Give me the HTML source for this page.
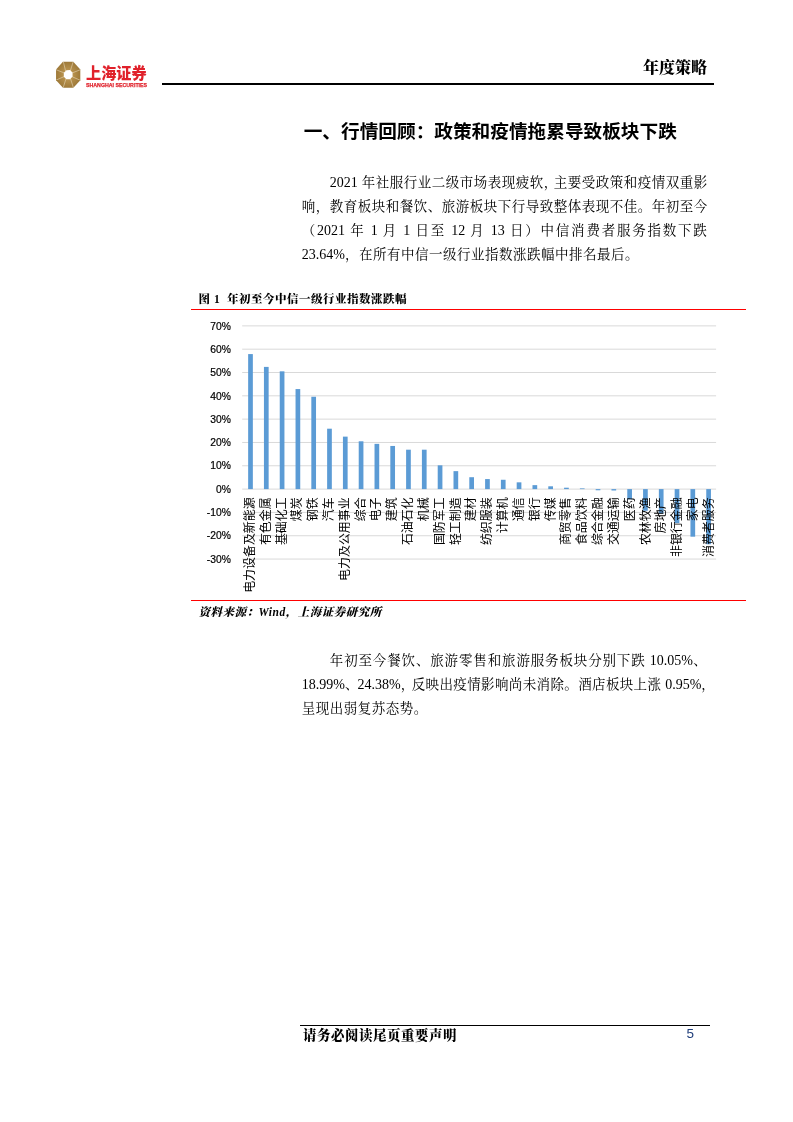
<!DOCTYPE html>
<html lang="zh-CN">
<head>
<meta charset="utf-8">
<title>年度策略</title>
<style>
html,body{margin:0;padding:0;background:#fff;}
body{width:793px;height:1122px;position:relative;overflow:hidden;font-family:"Liberation Serif","Noto Serif CJK SC",serif;color:#000;}
.abs{position:absolute;white-space:nowrap;}
.chart{position:absolute;left:0;top:0;}
.kai{font-family:"Liberation Serif","Noto Serif CJK SC",serif;}
.hei{font-family:"Liberation Sans","Noto Sans CJK SC",sans-serif;}
.hline{position:absolute;background:#000;}
.rline{position:absolute;background:#f00;}
.para{position:absolute;left:301.8px;width:405.5px;font-size:13.5px;letter-spacing:0.5px;line-height:24px;}
.para .n{font-size:14px;letter-spacing:0;}
.para .l{display:block;height:24px;white-space:nowrap;text-align:justify;text-align-last:justify;}
.para .l.last{text-align-last:left;}
.para .ind{padding-left:28px;}
.cp{display:inline-block;width:10px;overflow:visible;letter-spacing:0;text-align:left;text-align-last:left;}
.cp.w{width:12.5px;}
.cp.m{width:11px;}
.cp.e{width:6px;}
</style>
</head>
<body>
<!-- logo -->
<svg class="abs" style="left:50px;top:55px" width="40" height="40" viewBox="50 55 40 40">
  <defs>
    <radialGradient id="g1" cx="50%" cy="50%" r="55%">
      <stop offset="0.35" stop-color="#b8924e"/>
      <stop offset="1" stop-color="#9a7636"/>
    </radialGradient>
  </defs>
  <polygon points="62.9,61.8 73.3,61.8 80.3,69.4 80.3,80.2 73.4,87.8 63,87.8 56.05,80.2 56.05,69.4" fill="url(#g1)"/>
  <g stroke="#ecdfc4" stroke-width="0.55" stroke-linecap="round">
    <line x1="65.6" y1="71.0" x2="63.5" y2="62.3"/>
    <line x1="70.4" y1="70.6" x2="73.0" y2="62.3"/>
    <line x1="72.3" y1="72.9" x2="79.9" y2="69.9"/>
    <line x1="72.5" y1="76.9" x2="79.9" y2="80.1"/>
    <line x1="70.6" y1="78.9" x2="73.3" y2="87.4"/>
    <line x1="65.9" y1="79.0" x2="63.3" y2="87.4"/>
    <line x1="63.9" y1="76.7" x2="56.5" y2="79.9"/>
    <line x1="63.9" y1="72.8" x2="56.5" y2="69.9"/>
  </g>
  <polygon points="66.5,70.2 70.0,70.0 72.5,72.6 72.6,76.6 70.1,79.2 66.4,79.3 63.8,76.7 63.8,72.8" fill="#fff"/>
</svg>
<div class="abs hei" style="left:86px;top:61.5px;font-size:16.2px;line-height:22px;font-weight:900;color:#e0212b;transform:scaleX(0.935);transform-origin:0 0;">上海证券</div>
<div class="abs hei" style="left:86.3px;top:81.2px;font-size:6.2px;line-height:8px;font-weight:bold;color:#e0212b;-webkit-text-stroke:0.25px #e0212b;transform:scaleX(0.85);transform-origin:0 0;">SHANGHAI SECURITIES</div>
<div class="abs kai" style="left:643px;top:55.5px;font-size:16px;line-height:24px;font-weight:900;">年度策略</div>
<div class="hline" style="left:162px;top:82.6px;width:552px;height:2px;"></div>

<!-- title -->
<div class="abs hei" style="left:303.7px;top:118px;font-size:18.67px;line-height:28px;font-weight:bold;">一、行情回顾：政策和疫情拖累导致板块下跌</div>

<!-- paragraph 1 -->
<div class="para" style="top:171px;">
<span class="l ind"><span class="n">2021</span> 年社服行业二级市场表现疲软<span class="cp">，</span>主要受政策和疫情双重影</span>
<span class="l">响，教育板块和餐饮、旅游板块下行导致整体表现不佳。年初至今</span>
<span class="l">（<span class="n">2021</span> 年 <span class="n">1</span> 月 <span class="n">1</span> 日至 <span class="n">12</span> 月 <span class="n">13</span> 日）中信消费者服务指数下跌</span>
<span class="l last"><span class="n">23.64%</span>，在所有中信一级行业指数涨跌幅中排名最后。</span>
</div>

<!-- figure caption -->
<div class="abs kai" style="left:198.6px;top:289.6px;font-size:11.5px;letter-spacing:0.5px;line-height:18px;font-weight:900;">图 1&nbsp; 年初至今中信一级行业指数涨跌幅</div>
<div class="rline" style="left:191px;top:308.7px;width:555px;height:1.3px;"></div>
<svg class="chart" width="793" height="1122" viewBox="0 0 793 1122">
<line x1="242.2" x2="716.1" y1="325.86" y2="325.86" stroke="#d9d9d9" stroke-width="1"/>
<line x1="242.2" x2="716.1" y1="349.18" y2="349.18" stroke="#d9d9d9" stroke-width="1"/>
<line x1="242.2" x2="716.1" y1="372.50" y2="372.50" stroke="#d9d9d9" stroke-width="1"/>
<line x1="242.2" x2="716.1" y1="395.82" y2="395.82" stroke="#d9d9d9" stroke-width="1"/>
<line x1="242.2" x2="716.1" y1="419.14" y2="419.14" stroke="#d9d9d9" stroke-width="1"/>
<line x1="242.2" x2="716.1" y1="442.46" y2="442.46" stroke="#d9d9d9" stroke-width="1"/>
<line x1="242.2" x2="716.1" y1="465.78" y2="465.78" stroke="#d9d9d9" stroke-width="1"/>
<line x1="242.2" x2="716.1" y1="489.10" y2="489.10" stroke="#d9d9d9" stroke-width="1"/>
<line x1="242.2" x2="716.1" y1="512.42" y2="512.42" stroke="#d9d9d9" stroke-width="1"/>
<line x1="242.2" x2="716.1" y1="535.74" y2="535.74" stroke="#d9d9d9" stroke-width="1"/>
<line x1="242.2" x2="716.1" y1="559.06" y2="559.06" stroke="#d9d9d9" stroke-width="1"/>
<rect x="248.15" y="354.08" width="4.7" height="135.02" fill="#5b9bd5"/>
<rect x="263.94" y="366.90" width="4.7" height="122.20" fill="#5b9bd5"/>
<rect x="279.74" y="371.33" width="4.7" height="117.77" fill="#5b9bd5"/>
<rect x="295.54" y="389.06" width="4.7" height="100.04" fill="#5b9bd5"/>
<rect x="311.33" y="396.75" width="4.7" height="92.35" fill="#5b9bd5"/>
<rect x="327.13" y="428.70" width="4.7" height="60.40" fill="#5b9bd5"/>
<rect x="342.93" y="436.63" width="4.7" height="52.47" fill="#5b9bd5"/>
<rect x="358.72" y="441.29" width="4.7" height="47.81" fill="#5b9bd5"/>
<rect x="374.52" y="443.86" width="4.7" height="45.24" fill="#5b9bd5"/>
<rect x="390.32" y="445.96" width="4.7" height="43.14" fill="#5b9bd5"/>
<rect x="406.11" y="449.69" width="4.7" height="39.41" fill="#5b9bd5"/>
<rect x="421.91" y="449.69" width="4.7" height="39.41" fill="#5b9bd5"/>
<rect x="437.71" y="465.31" width="4.7" height="23.79" fill="#5b9bd5"/>
<rect x="453.50" y="471.14" width="4.7" height="17.96" fill="#5b9bd5"/>
<rect x="469.30" y="477.21" width="4.7" height="11.89" fill="#5b9bd5"/>
<rect x="485.10" y="479.07" width="4.7" height="10.03" fill="#5b9bd5"/>
<rect x="500.89" y="479.77" width="4.7" height="9.33" fill="#5b9bd5"/>
<rect x="516.69" y="482.34" width="4.7" height="6.76" fill="#5b9bd5"/>
<rect x="532.49" y="485.14" width="4.7" height="3.96" fill="#5b9bd5"/>
<rect x="548.28" y="486.30" width="4.7" height="2.80" fill="#5b9bd5"/>
<rect x="564.08" y="487.70" width="4.7" height="1.40" fill="#5b9bd5"/>
<rect x="579.88" y="488.40" width="4.7" height="0.70" fill="#5b9bd5"/>
<rect x="595.67" y="489.10" width="4.7" height="1.17" fill="#5b9bd5"/>
<rect x="611.47" y="489.10" width="4.7" height="1.40" fill="#5b9bd5"/>
<rect x="627.27" y="489.10" width="4.7" height="10.26" fill="#5b9bd5"/>
<rect x="643.07" y="489.10" width="4.7" height="21.69" fill="#5b9bd5"/>
<rect x="658.86" y="489.10" width="4.7" height="24.49" fill="#5b9bd5"/>
<rect x="674.66" y="489.10" width="4.7" height="34.05" fill="#5b9bd5"/>
<rect x="690.45" y="489.10" width="4.7" height="47.57" fill="#5b9bd5"/>
<rect x="706.25" y="489.10" width="4.7" height="55.13" fill="#5b9bd5"/>
<g font-family="'Liberation Sans', sans-serif" font-size="10.3" fill="#000" stroke="#000" stroke-width="0.2" text-anchor="end">
<text x="230.8" y="329.56">70%</text>
<text x="230.8" y="352.88">60%</text>
<text x="230.8" y="376.20">50%</text>
<text x="230.8" y="399.52">40%</text>
<text x="230.8" y="422.84">30%</text>
<text x="230.8" y="446.16">20%</text>
<text x="230.8" y="469.48">10%</text>
<text x="230.8" y="492.80">0%</text>
<text x="230.8" y="516.12">-10%</text>
<text x="230.8" y="539.44">-20%</text>
<text x="230.8" y="562.76">-30%</text>
</g>
<g font-family="'Liberation Sans', 'Noto Sans CJK SC', sans-serif" font-size="11.95" fill="#000" text-anchor="end">
<text transform="translate(253.85,497.3) rotate(-90)">电力设备及新能源</text>
<text transform="translate(269.68,497.3) rotate(-90)">有色金属</text>
<text transform="translate(285.51,497.3) rotate(-90)">基础化工</text>
<text transform="translate(301.34,497.3) rotate(-90)">煤炭</text>
<text transform="translate(317.17,497.3) rotate(-90)">钢铁</text>
<text transform="translate(333.00,497.3) rotate(-90)">汽车</text>
<text transform="translate(348.83,497.3) rotate(-90)">电力及公用事业</text>
<text transform="translate(364.66,497.3) rotate(-90)">综合</text>
<text transform="translate(380.49,497.3) rotate(-90)">电子</text>
<text transform="translate(396.32,497.3) rotate(-90)">建筑</text>
<text transform="translate(412.15,497.3) rotate(-90)">石油石化</text>
<text transform="translate(427.98,497.3) rotate(-90)">机械</text>
<text transform="translate(443.81,497.3) rotate(-90)">国防军工</text>
<text transform="translate(459.64,497.3) rotate(-90)">轻工制造</text>
<text transform="translate(475.47,497.3) rotate(-90)">建材</text>
<text transform="translate(491.30,497.3) rotate(-90)">纺织服装</text>
<text transform="translate(507.13,497.3) rotate(-90)">计算机</text>
<text transform="translate(522.96,497.3) rotate(-90)">通信</text>
<text transform="translate(538.79,497.3) rotate(-90)">银行</text>
<text transform="translate(554.62,497.3) rotate(-90)">传媒</text>
<text transform="translate(570.45,497.3) rotate(-90)">商贸零售</text>
<text transform="translate(586.28,497.3) rotate(-90)">食品饮料</text>
<text transform="translate(602.11,497.3) rotate(-90)">综合金融</text>
<text transform="translate(617.94,497.3) rotate(-90)">交通运输</text>
<text transform="translate(633.77,497.3) rotate(-90)">医药</text>
<text transform="translate(649.60,497.3) rotate(-90)">农林牧渔</text>
<text transform="translate(665.43,497.3) rotate(-90)">房地产</text>
<text transform="translate(681.26,497.3) rotate(-90)">非银行金融</text>
<text transform="translate(697.09,497.3) rotate(-90)">家电</text>
<text transform="translate(712.92,497.3) rotate(-90)">消费者服务</text>
</g>
</svg>
<div class="rline" style="left:191px;top:599.5px;width:555px;height:1.3px;"></div>
<div class="abs kai" style="left:198.5px;top:603.3px;font-size:11.5px;letter-spacing:0.5px;line-height:18px;font-weight:900;font-style:italic;">资料来源：Wind，上海证券研究所</div>

<!-- paragraph 2 -->
<div class="para" style="top:649px;">
<span class="l ind">年初至今餐饮、旅游零售和旅游服务板块分别下跌 <span class="n">10.05%</span>、</span>
<span class="l" style="letter-spacing:0.35px"><span class="n">18.99%</span><span class="cp w">、</span><span class="n">24.38%</span><span class="cp m">，</span>反映出疫情影响尚未消除。酒店板块上涨 <span class="n">0.95%</span><span class="cp e">，</span></span>
<span class="l last">呈现出弱复苏态势。</span>
</div>

<!-- footer -->
<div class="hline" style="left:300px;top:1024.6px;width:410px;height:1px;"></div>
<div class="abs kai" style="left:303px;top:1024.6px;font-size:13.4px;letter-spacing:0.6px;line-height:22px;font-weight:900;">请务必阅读尾页重要声明</div>
<div class="abs" style="left:686.5px;top:1024.5px;font-family:'Liberation Sans',sans-serif;font-size:13.5px;line-height:18px;color:#1f3d7a;">5</div>
</body>
</html>
